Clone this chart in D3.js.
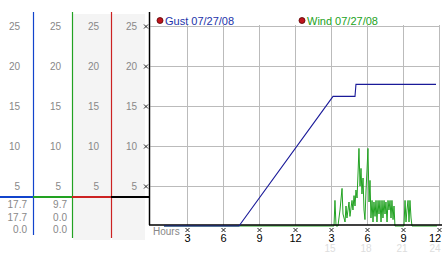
<!DOCTYPE html>
<html>
<head>
<meta charset="utf-8">
<script src="https://cdn.jsdelivr.net/npm/d3@7/dist/d3.min.js"></script>
<style>
  body { margin: 0; background: #fff; }
  svg { display: block; font-family: 'Liberation Sans', Arial, sans-serif; }
</style>
</head>
<body>
<svg id="chart" width="442" height="253"></svg>
<script>
'use strict';

var yTicks = [5, 10, 15, 20, 25];
var xTickHours = [3, 6, 9, 12, 15, 18, 21, 24];
var xTickLabels = ['3', '6', '9', '12', '3', '6', '9', '12'];
var faintHours = [15, 18, 21, 24];
var faintLabels = ['15', '18', '21', '24'];

var legendNames = ['Gust 07/27/08', 'Wind 07/27/08'];
var summaryGust = ['17.7', '17.7', '0.0'];
var summaryWind = ['9.7', '0.0', '0.0'];

var gustHours = [1.08, 7.33, 15.17, 17.0, 17.08, 23.75];
var gustValues = [0, 0, 16.2, 16.2, 17.7, 17.7];

var windHours = [1.08, 15.25, 15.33, 15.42, 15.58, 15.75, 15.92, 16.0, 16.17, 16.25, 16.33,
  16.5, 16.58, 16.75, 16.83, 16.92, 17.0, 17.08, 17.17, 17.25, 17.33, 17.42, 17.5,
  17.58, 17.67, 17.75, 17.83, 17.92, 18.0, 18.08, 18.17, 18.25, 18.33, 18.42, 18.5,
  18.58, 18.67, 18.75, 18.83, 18.92, 19.0, 19.08, 19.17, 19.25, 19.33, 19.42, 19.5,
  19.58, 19.67, 19.75, 19.83, 19.92, 20.0, 20.08, 20.17, 20.25, 20.33, 21.08, 21.17,
  21.25, 21.33, 21.42, 21.5, 21.58, 21.67, 21.75, 23.83];
var windValues = [0, 0, 3.2, 0, 0, 2.0, 4.7, 1.5, 0.5, 2.5, 1.0,
  3.0, 1.2, 3.2, 2.0, 3.8, 2.5, 4.5, 3.5, 6.5, 9.7, 5.0, 7.2,
  4.0, 6.0, 2.0, 0.8, 4.5, 7.0, 9.7, 3.0, 5.7, 1.0, 3.2, 0.5,
  3.0, 1.2, 3.2, 0.5, 3.2, 1.5, 3.2, 0.5, 3.2, 1.0, 3.2, 1.5,
  3.0, 0.5, 3.2, 2.0, 3.2, 1.0, 3.2, 0.8, 2.5, 0, 0, 3.2,
  0.5, 2.0, 3.2, 0.5, 3.2, 1.0, 0, 0];

var gustColor = '#1a1a99';
var windColor = '#22a222';

var svg = d3.select('#chart');
var W = +svg.attr('width');

var x = d3.scaleLinear().domain([0, 24]).range([151, 439]);
var y = d3.scaleLinear().domain([0, 25]).range([226, 26]);

// left panel: one value column per series, plus the plot's own
var cols = [
  {labelRight: 20, line: 33, color: '#1144cc', lineBottom: 235, bg: false},
  {labelRight: 61, line: 72, color: '#22a222', lineBottom: 238, bg: false},
  {labelRight: 99, line: 111, color: '#cc2222', lineBottom: 238, bg: true},
  {labelRight: 137, line: 149, color: '#000', lineBottom: 225, bg: true}
];

cols.forEach(function (c, i) {
  var left = i === 0 ? 0 : cols[i - 1].line;
  if (c.bg) {
    svg.append('rect')
      .attr('x', left + 1).attr('y', 14)
      .attr('width', (i === 3 ? 145 : c.line) - left - 1).attr('height', 226)
      .attr('fill', '#f4f4f4');
  }
});

cols.forEach(function (c, i) {
  var left = i === 0 ? 0 : cols[i - 1].line;
  svg.append('g').selectAll('text').data(yTicks).enter().append('text')
    .attr('x', c.labelRight)
    .attr('y', function (d) { return y(d) + 4; })
    .attr('text-anchor', 'end')
    .attr('font-size', 10)
    .attr('fill', '#888')
    .text(function (d) { return d; });
  svg.append('line')
    .attr('x1', c.line + 0.5).attr('x2', c.line + 0.5)
    .attr('y1', 12).attr('y2', c.lineBottom)
    .attr('stroke', c.color).attr('stroke-width', 1.2);
  svg.append('line')
    .attr('x1', left).attr('x2', c.line + 1)
    .attr('y1', 197).attr('y2', 197)
    .attr('stroke', c.color).attr('stroke-width', 2);
});

[summaryGust, summaryWind].forEach(function (vals, i) {
  svg.append('g').selectAll('text').data(vals).enter().append('text')
    .attr('x', i === 0 ? 27 : 67)
    .attr('y', function (d, j) { return 208 + j * 12.5; })
    .attr('text-anchor', 'end')
    .attr('font-size', 10)
    .attr('fill', '#888')
    .text(function (d) { return d; });
});

// main plot grid
var grid = svg.append('g').attr('stroke', '#bbb').attr('stroke-width', 1);
grid.selectAll('line.h').data(yTicks).enter().append('line')
  .attr('x1', 149).attr('x2', 439)
  .attr('y1', function (d) { return Math.round(y(d)) + 0.5; })
  .attr('y2', function (d) { return Math.round(y(d)) + 0.5; });
grid.selectAll('line.v').data(xTickHours).enter().append('line')
  .attr('x1', function (d) { return Math.round(x(d)) + 0.5; })
  .attr('x2', function (d) { return Math.round(x(d)) + 0.5; })
  .attr('y1', 25).attr('y2', 225);

// little cross tick marks
function cross(g, cx, cy) {
  g.append('path')
    .attr('d', 'M' + (cx - 2) + ',' + (cy - 2) + 'l4,4M' + (cx + 2) + ',' + (cy - 2) + 'l-4,4')
    .attr('stroke', '#222').attr('stroke-width', 1).attr('fill', 'none');
}
var ticks = svg.append('g');
yTicks.forEach(function (d) { cross(ticks, 146, Math.round(y(d)) + 0.5); });
xTickHours.forEach(function (d) { cross(ticks, Math.round(x(d)) + 0.5, 230); });

// last labels sit at the right edge, keep them inside the window
function edgeX(d) { return Math.min(x(d) + 0.5, W - 7); }

svg.append('g').selectAll('text').data(xTickHours).enter().append('text')
  .attr('x', edgeX)
  .attr('y', 242)
  .attr('text-anchor', 'middle')
  .attr('font-size', 11)
  .attr('fill', '#000')
  .text(function (d, i) { return xTickLabels[i]; });

svg.append('g').selectAll('text').data(faintHours).enter().append('text')
  .attr('x', function (d) { return Math.min(x(d) - 1, W - 7); })
  .attr('y', 252)
  .attr('text-anchor', 'middle')
  .attr('font-size', 10)
  .attr('fill', '#ddd')
  .text(function (d, i) { return faintLabels[i]; });

svg.append('text')
  .attr('x', 153).attr('y', 235)
  .attr('font-size', 10)
  .attr('fill', '#888')
  .text('Hours');

// series
var line = d3.line()
  .x(function (d) { return x(d[0]); })
  .y(function (d) { return y(d[1]); });

svg.append('path')
  .datum(d3.zip(windHours, windValues))
  .attr('d', line)
  .attr('fill', 'none')
  .attr('stroke', windColor)
  .attr('stroke-width', 1);

svg.append('line')
  .attr('x1', 149.5).attr('x2', 149.5).attr('y1', 12).attr('y2', 225)
  .attr('stroke', '#000').attr('stroke-width', 1.3);
svg.append('line')
  .attr('x1', 149).attr('x2', 442).attr('y1', 225).attr('y2', 225)
  .attr('stroke', '#000').attr('stroke-width', 1.3);

svg.append('path')
  .datum(d3.zip(gustHours, gustValues))
  .attr('d', line)
  .attr('fill', 'none')
  .attr('stroke', gustColor)
  .attr('stroke-width', 1.1);

// legend
var legendX = [160, 302];
legendNames.forEach(function (name, i) {
  svg.append('circle')
    .attr('cx', legendX[i]).attr('cy', 20.5).attr('r', 3)
    .attr('fill', '#c0141c').attr('stroke', '#500').attr('stroke-width', 0.8);
  svg.append('text')
    .attr('x', legendX[i] + 5).attr('y', 24.5)
    .attr('font-size', 11)
    .attr('fill', i === 0 ? '#2233aa' : windColor)
    .text(name);
});
</script>
</body>
</html>
